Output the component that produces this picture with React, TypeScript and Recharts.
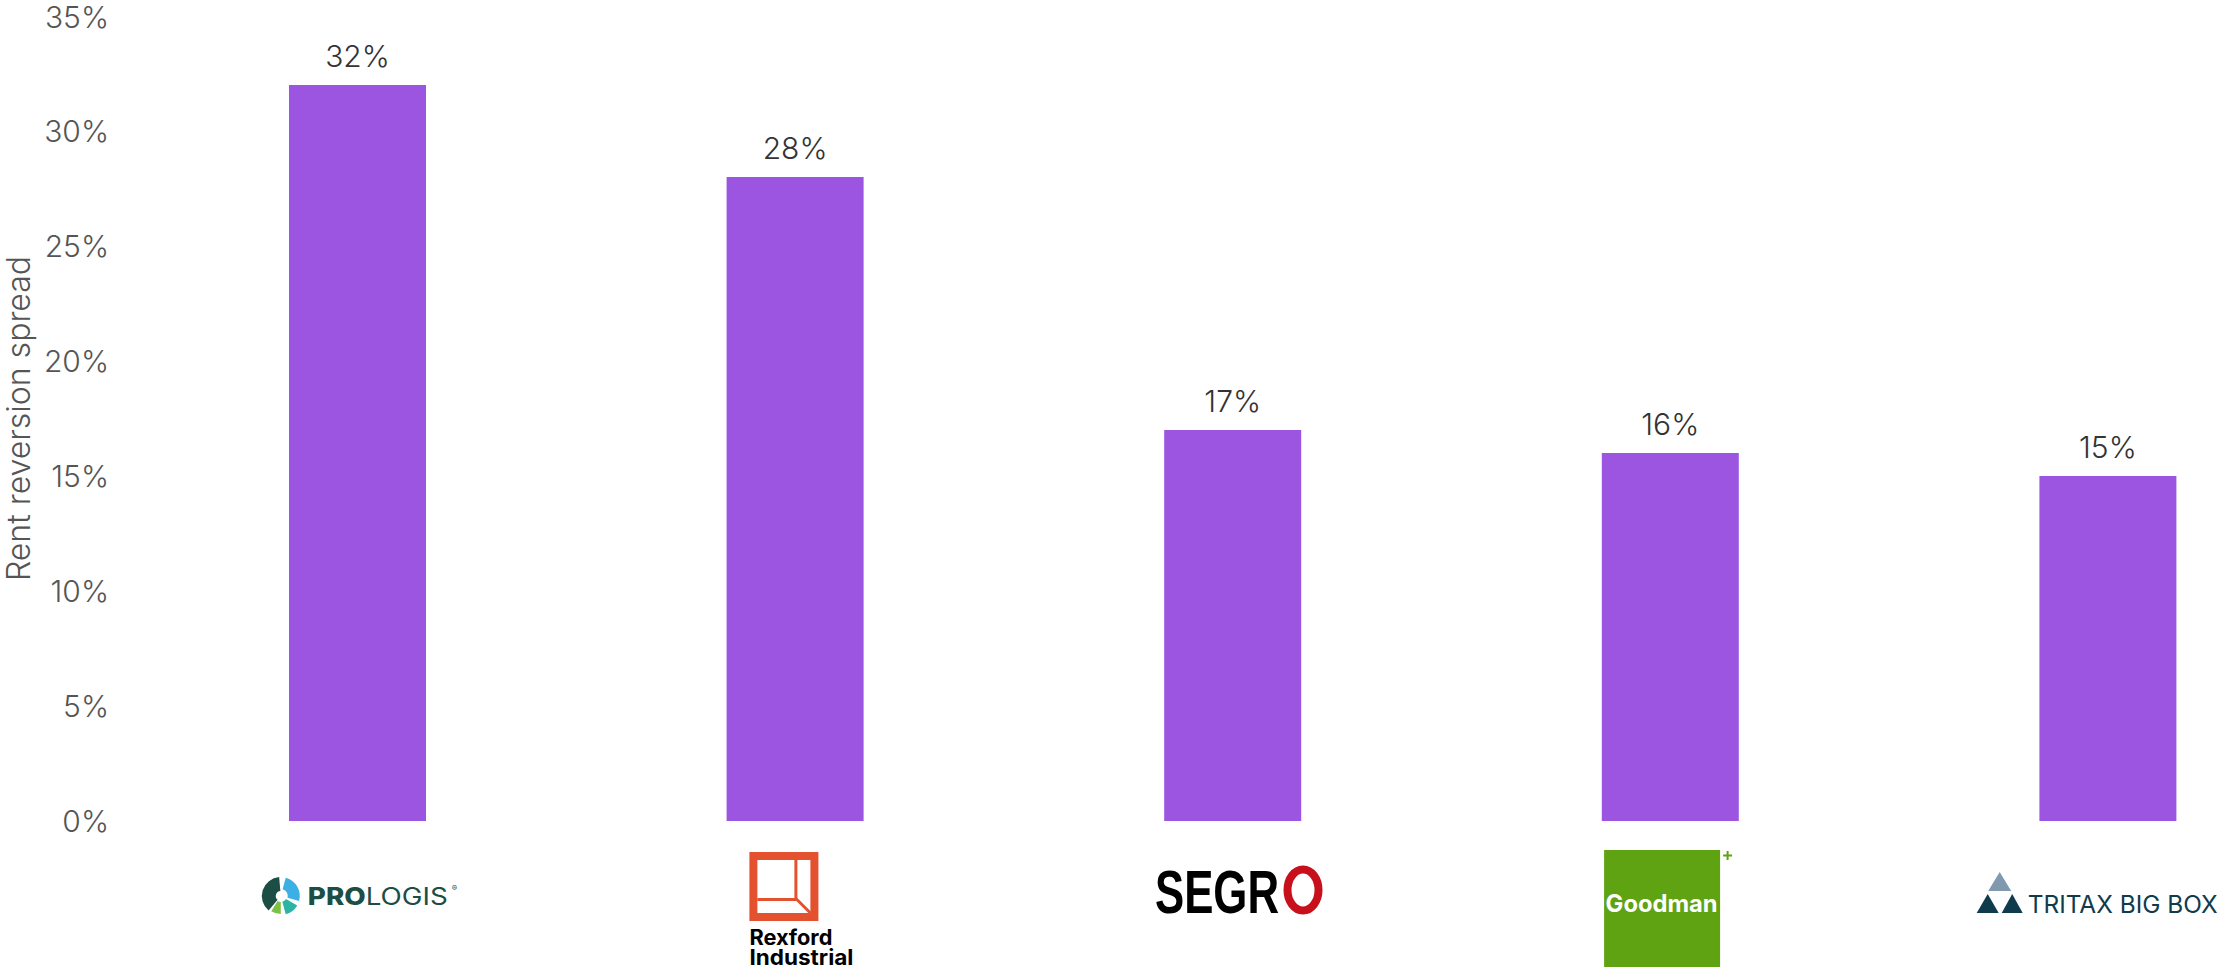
import { BarChart, Bar, XAxis, YAxis, LabelList } from 'recharts';

const companies = ['Prologis', 'Rexford Industrial', 'SEGRO', 'Goodman', 'Tritax Big Box'];
const spreads = [32, 28, 17, 16, 15];
const yTicks = [0, 5, 10, 15, 20, 25, 30, 35];

const data = companies.map((name, i) => ({ name, spread: spreads[i] }));

const FONT = 'Inter, "Noto Sans", sans-serif';
const pct = (v: any) => `${v}%`;

// annular sector, angles in degrees (0 = right, 90 = down)
function sector(cx: number, cy: number, r0: number, r1: number, a0: number, a1: number) {
    const rad = (a: number) => (a * Math.PI) / 180;
    const p = (r: number, a: number) => `${cx + r * Math.cos(rad(a))},${cy + r * Math.sin(rad(a))}`;
    const large = (a1 - a0 + 360) % 360 > 180 ? 1 : 0;
    return `M${p(r1, a0)} A${r1},${r1} 0 ${large} 1 ${p(r1, a1)} L${p(r0, a1)} A${r0},${r0} 0 ${large} 0 ${p(r0, a0)} Z`;
}

function Prologis() {
    return (
        <g>
            <path d={sector(-77, 75, 5, 19, 130, 265)} fill="#1d4e45" />
            <path d={sector(-77, 75, 7, 19, 285, 15)} fill="#3cb0e4" />
            <path d={sector(-77, 75, 6, 19, 30, 75)} fill="#2bb3a3" />
            <path d={sector(-77, 75, 6, 18, 90, 122)} fill="#7cc143" />
            <text x={-50} y={84} fontSize={24} fill="#1d4e45" textLength={140} lengthAdjust="spacingAndGlyphs" fontFamily={FONT}>
                <tspan fontWeight={800}>PRO</tspan>
                <tspan fontWeight={400}>LOGIS</tspan>
            </text>
            <text x={94} y={70} fontSize={8} fill="#1d4e45" fontFamily={FONT}>®</text>
        </g>
    );
}

function Rexford() {
    return (
        <g>
            <rect x={-46} y={31} width={69} height={69} fill="#e4512f" />
            <rect x={-38} y={39} width={53} height={53} fill="#fff" />
            <rect x={-1} y={39} width={3} height={41} fill="#e4512f" />
            <rect x={-38} y={77} width={39} height={3} fill="#e4512f" />
            <path d="M1,78 L15,92" stroke="#e4512f" strokeWidth={3} />
            <text x={-46} y={124} fontSize={21} fontWeight={700} fill="#000" textLength={83} lengthAdjust="spacingAndGlyphs" fontFamily={FONT}>Rexford</text>
            <text x={-46} y={144} fontSize={21} fontWeight={700} fill="#000" textLength={104} lengthAdjust="spacingAndGlyphs" fontFamily={FONT}>Industrial</text>
        </g>
    );
}

function Segro() {
    return (
        <g>
            <text x={-78} y={92} fontSize={62} fontWeight={700} fill="#000" textLength={124} lengthAdjust="spacingAndGlyphs" fontFamily='"Liberation Sans Narrow", "Liberation Sans", sans-serif'>SEGR</text>
            <ellipse cx={70} cy={69} rx={15.5} ry={20.5} fill="none" stroke="#c8101c" strokeWidth={8} />
        </g>
    );
}

function Goodman() {
    return (
        <g>
            <rect x={-66.5} y={29} width={116} height={120} fill="#5fa313" />
            <text x={-65} y={91} fontSize={24} fontWeight={700} fill="#fff" textLength={112} lengthAdjust="spacingAndGlyphs" fontFamily={FONT}>Goodman</text>
            <path d="M52.5,34.5 L61.5,34.5 M57,30 L57,39" stroke="#5fa313" strokeWidth={2} />
        </g>
    );
}

function Tritax() {
    return (
        <g>
            <path d="M-108.5,51 L-97,70 L-120,70 Z" fill="#8199ae" />
            <path d="M-120.5,73 L-109.5,92 L-131.5,92 Z" fill="#0f3b4d" />
            <path d="M-96,73 L-85.5,92 L-106.5,92 Z" fill="#0f3b4d" />
            <text x={-80.5} y={92} fontSize={24} fontWeight={400} fill="#0f3b4d" textLength={190} lengthAdjust="spacingAndGlyphs" fontFamily={FONT}>TRITAX BIG BOX</text>
        </g>
    );
}

const logos: Record<string, () => any> = {
    'Prologis': Prologis,
    'Rexford Industrial': Rexford,
    'SEGRO': Segro,
    'Goodman': Goodman,
    'Tritax Big Box': Tritax,
};

function LogoTick(props: any) {
    const { x, y, payload } = props;
    const Logo = logos[payload.value];
    return (
        <g transform={`translate(${x},${y})`}>
            {Logo ? <Logo /> : null}
        </g>
    );
}

function YTitle(props: any) {
    const vb = props.viewBox || { x: 0, y: 16, width: 120, height: 805 };
    const cx = vb.x + 18;
    const cy = vb.y + vb.height / 2;
    return (
        <text x={cx} y={cy} transform={`rotate(-90, ${cx}, ${cy})`} textAnchor="middle" dominantBaseline="central" fontSize={32} fontWeight={300} fill="#555" fontFamily={FONT}>
            Rent reversion spread
        </text>
    );
}

export default function App() {
    return (
        <div style={{ position: 'absolute', left: 0, top: 0, width: 2222, height: 967, background: '#fff', overflow: 'hidden' }}>
            <BarChart width={2222} height={967} data={data} margin={{ top: 16, right: 0, bottom: 0, left: 0 }} style={{ fontFamily: FONT }}>
                <XAxis
                    dataKey="name"
                    height={146}
                    axisLine={false}
                    tickLine={false}
                    tickSize={0}
                    tickMargin={0}
                    interval={0}
                    padding={{ left: 19, right: -105 }}
                    tick={(p: any) => <LogoTick {...p} />}
                />
                <YAxis
                    width={120}
                    domain={[0, 35]}
                    ticks={yTicks}
                    axisLine={false}
                    tickLine={false}
                    tickSize={0}
                    tickMargin={11}
                    tickFormatter={pct}
                    tick={{ fill: '#555', fontSize: 30, fontWeight: 300, fontFamily: FONT }}
                    label={{ value: 'Rent reversion spread', content: (p: any) => <YTitle {...p} /> }}
                />
                <Bar dataKey="spread" fill="#9b55e0" barSize={137} isAnimationActive={false}>
                    <LabelList dataKey="spread" position="top" offset={18} formatter={pct} fill="#333" fontSize={30} fontWeight={300} fontFamily={FONT} />
                </Bar>
            </BarChart>
        </div>
    );
}
